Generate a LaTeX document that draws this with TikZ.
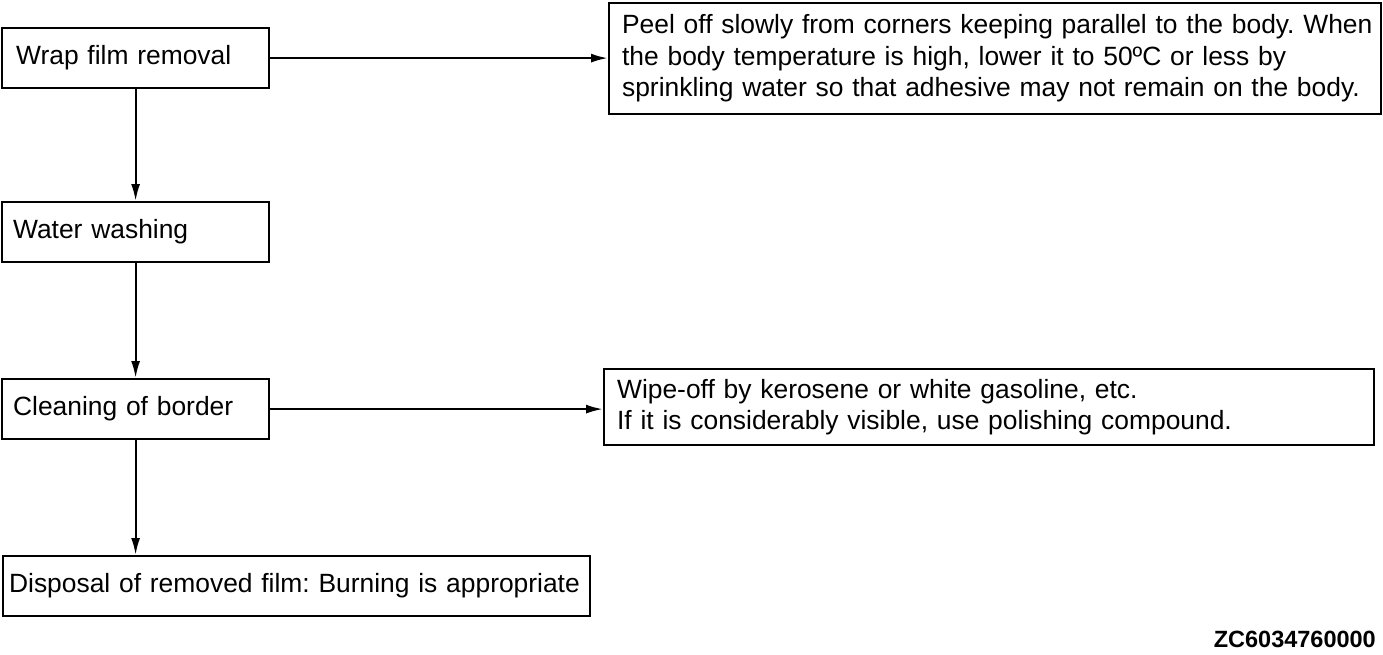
\documentclass[tikz,border=0pt]{standalone}
\usepackage{fontspec}
\setmainfont{Liberation Sans}
\usetikzlibrary{arrows.meta}
\frenchspacing
\begin{document}
\begin{tikzpicture}[x=1pt,y=-1pt,
  box/.style={draw, line width=2.2pt, anchor=north west, align=left, inner ysep=0pt,
    font=\fontsize{26.4}{31.5}\selectfont},
  flow/.style={line width=2.2pt, -{Latex[length=17pt,width=9pt]}},
  code/.style={font=\fontsize{23.5}{24}\selectfont\bfseries, anchor=base east, inner sep=0pt}]
\useasboundingbox (0,0) rectangle (1383,654);
\node[box, inner xsep=14pt, text width=239pt, minimum height=60pt] (wrap) at (1,27) {\mbox{Wrap film removal}};
\node[box, inner xsep=11pt, text width=245pt, minimum height=60pt] (water) at (1,201) {\mbox{Water washing}};
\node[box, inner xsep=11pt, text width=245pt, minimum height=60pt] (clean) at (1,378) {\mbox{Cleaning of border}};
\node[box, inner xsep=6pt, text width=575pt, minimum height=60pt] (disp) at (2,555) {\mbox{Disposal of removed film: Burning is appropriate}};
\node[box, inner xsep=13pt, text width=746pt, minimum height=111pt] (peel) at (608,2)
  {\mbox{Peel off slowly from corners keeping parallel to the body. When}\\
   \mbox{the body temperature is high, lower it to 50ºC or less by}\\
   \mbox{sprinkling water so that adhesive may not remain on the body.}};
\node[box, inner xsep=13pt, text width=744pt, minimum height=76pt] (wipe) at (603,368)
  {\mbox{Wipe-off by kerosene or white gasoline, etc.}\\
   \mbox{If it is considerably visible, use polishing compound.}};
\node[code] (id) at (1376,647) {ZC6034760000};
\draw[flow] (wrap.east) -- (wrap.east -| peel.west);
\draw[flow] (clean.east) -- (clean.east -| wipe.west);
\draw[flow] (wrap.south) -- (water.north);
\draw[flow] (water.south) -- (clean.north);
\draw[flow] (clean.south) -- (clean.south |- disp.north);
\end{tikzpicture}
\end{document}
